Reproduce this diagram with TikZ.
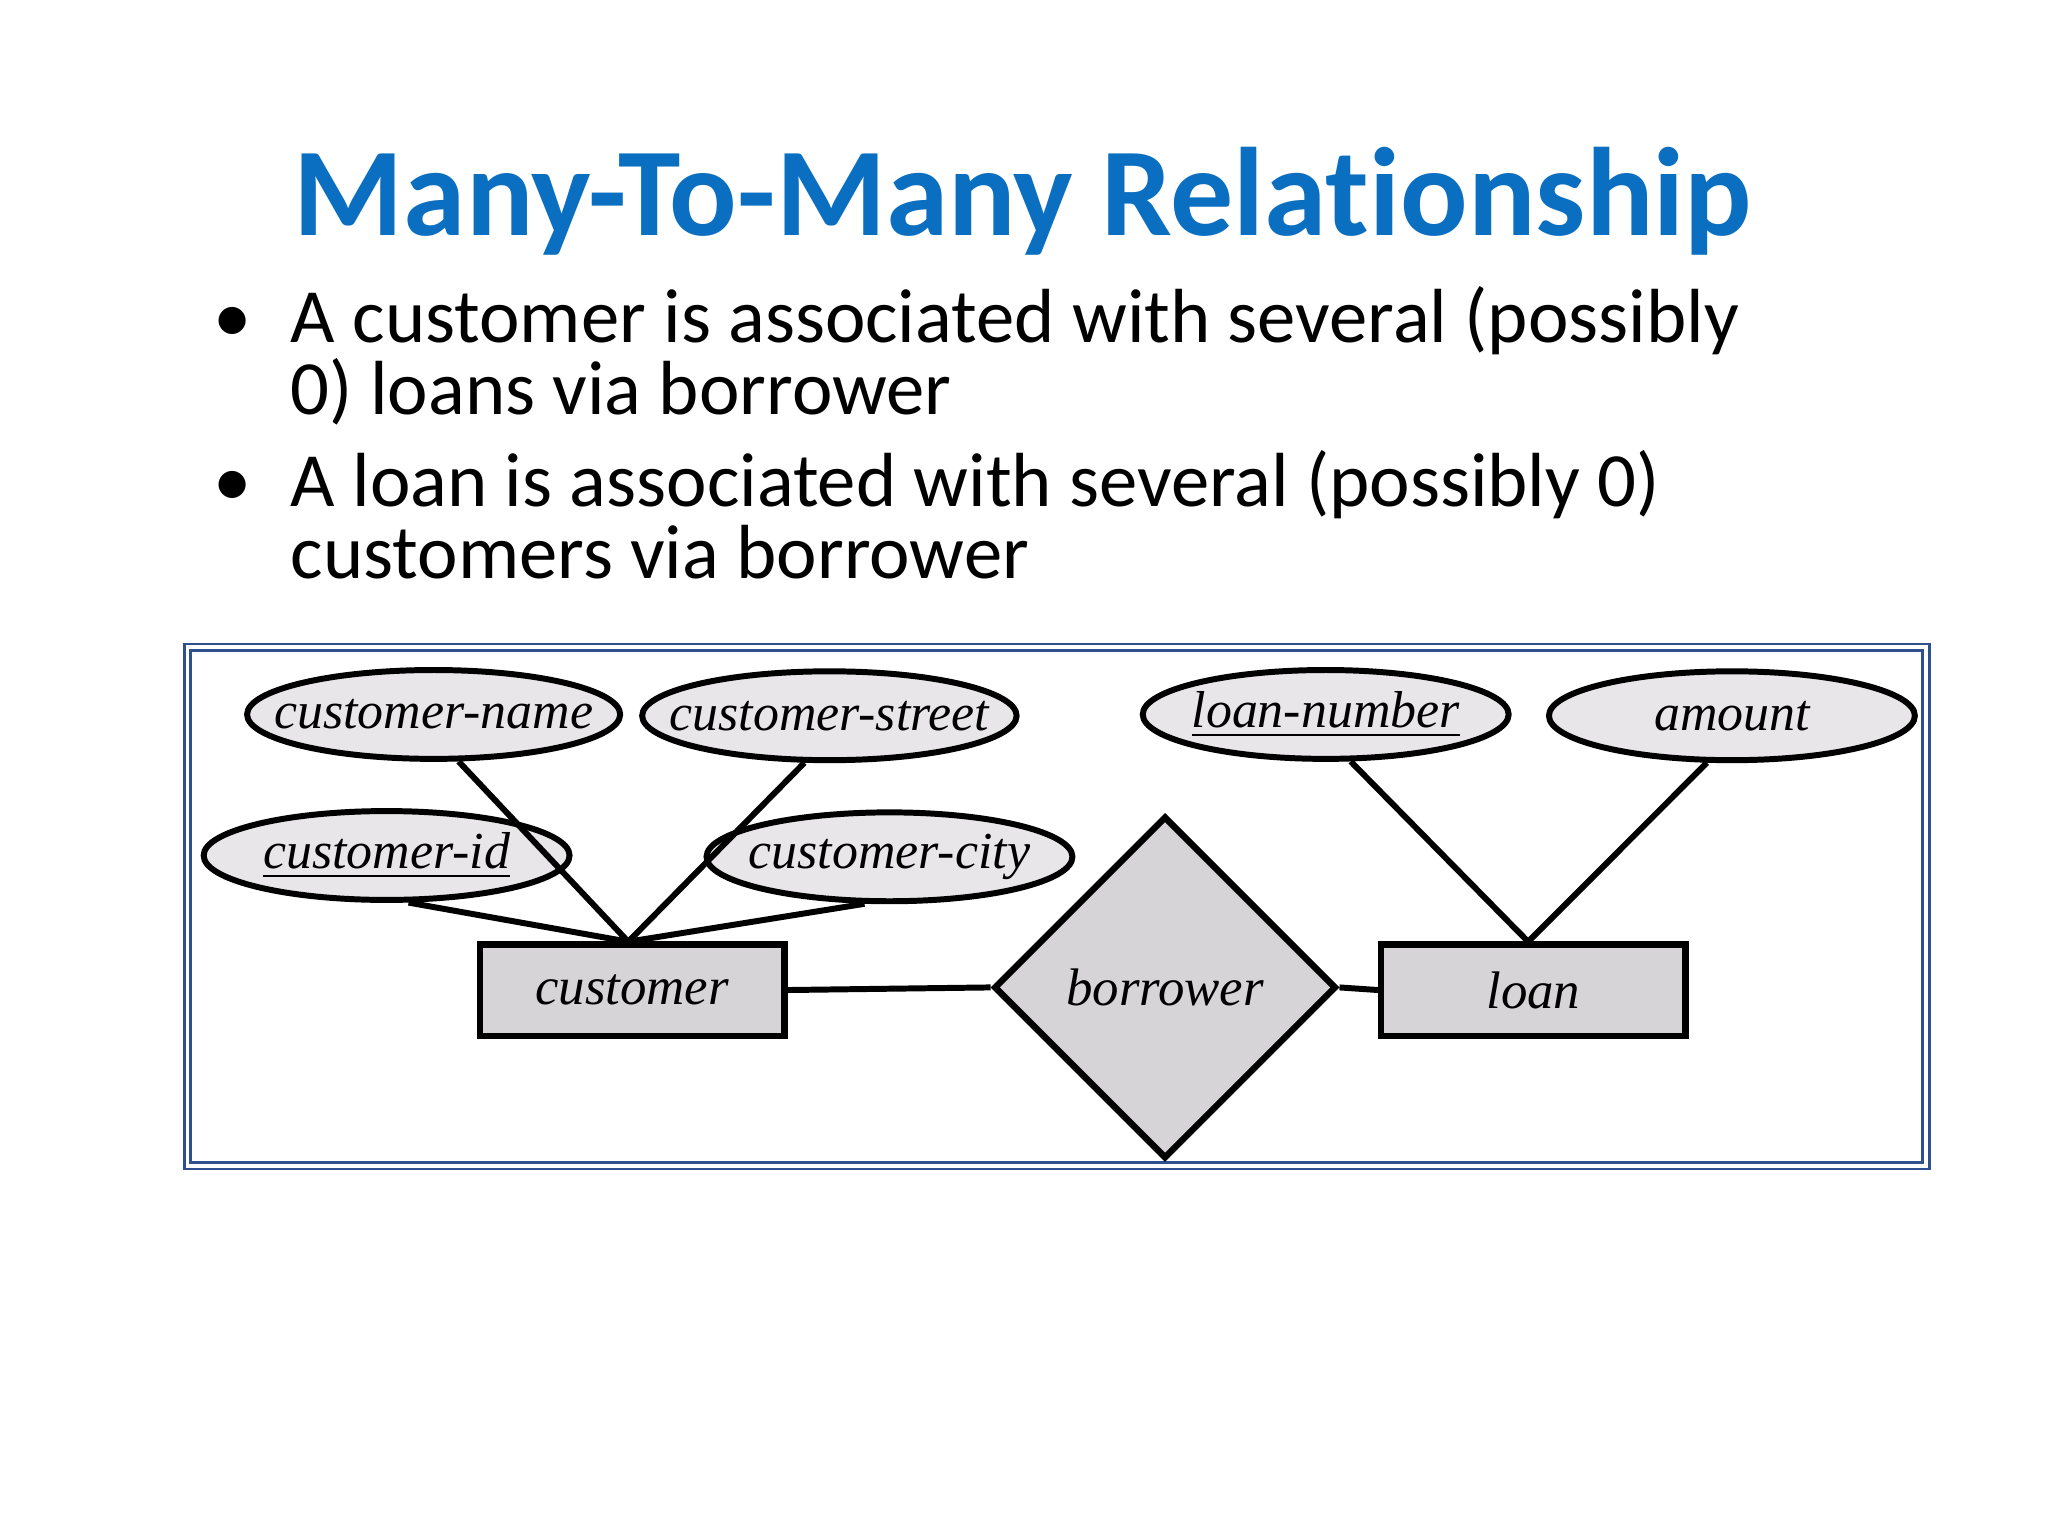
\documentclass[tikz,border=0pt]{standalone}
\usepackage{fontspec}
\setmainfont{Carlito}[Ligatures={NoCommon}]
\newfontfamily\erfont{Liberation Serif}
\usetikzlibrary{shapes.geometric}
\definecolor{titleblue}{HTML}{0B6FC1}
\definecolor{framec}{HTML}{2F4F8F}
\definecolor{attrfill}{HTML}{E8E6E8}
\definecolor{entfill}{HTML}{D6D4D6}
\begin{document}
\begin{tikzpicture}[x=0.01cm,y=-0.01cm,
  attr/.style={ellipse,draw,line width=1.3pt,fill=attrfill,minimum width=2.8cm,minimum height=0.68cm,inner xsep=-6pt,inner ysep=-1pt,font=\erfont\itshape\fontsize{11.3}{13}\selectfont},
  ent/.style={rectangle,draw,line width=1.4pt,fill=entfill,minimum width=2.33cm,minimum height=0.70cm,inner sep=0pt,font=\erfont\itshape\fontsize{11.5}{13}\selectfont},
  rel/.style={diamond,draw,line width=1.4pt,fill=entfill,minimum width=2.62cm,minimum height=2.62cm,inner sep=0pt,font=\erfont\itshape\fontsize{11.5}{13}\selectfont},
  conn/.style={line width=1.3pt},
  body/.style={anchor=base west,inner sep=0pt,font=\fontsize{16.7}{18}\selectfont}]
\useasboundingbox[fill=white] (0,0) rectangle (1568,1176);
\node[anchor=base,inner sep=0pt,text=titleblue,font=\bfseries\fontsize{27.4}{29}\selectfont] (title) at (783,180) {Many-To-Many Relationship};
\node[body] (b1) at (163,262) {\textbullet};
\node[body] (t1) at (222,262) {A customer is associated with several (possibly};
\node[body] (t1b) at (222,317) {0) loans via borrower};
\node[body] (b2) at (163,388) {\textbullet};
\node[body] (t2) at (222,388) {A loan is associated with several (possibly 0)};
\node[body] (t2b) at (222,443) {customers via borrower};
\draw[framec,line width=0.6pt] (141,493) rectangle (1477,895);
\draw[framec,line width=0.6pt] (146,498) rectangle (1472,890);
\node[attr] (cname) at (332,547) {customer-name};
\node[attr] (cstreet) at (635,548) {customer-street};
\node[attr] (cid) at (296,655) {\underline{customer-id}};
\node[attr] (ccity) at (681,656) {customer-city};
\node[attr] (lnum) at (1015,547) {\underline{loan-number}};
\node[attr] (amt) at (1326,548) {amount};
\node[ent] (cust) at (484,758) {customer};
\node[ent] (loan) at (1174,758) {loan};
\node[rel] (borr) at (892,756) {borrower};
\coordinate (ctop) at (481,721);
\coordinate (ltop) at (1170,721);
\draw[conn] (cname.-62) -- (ctop);
\draw[conn] (cstreet.-118) -- (ctop);
\draw[conn] (cid.-65) -- (ctop);
\draw[conn] (ccity.-118) -- (ctop);
\draw[conn] (lnum.-62) -- (ltop);
\draw[conn] (amt.-118) -- (ltop);
\draw[conn] (cust.east) -- (borr.west);
\draw[conn] (borr.east) -- (loan.west);
\end{tikzpicture}
\end{document}
